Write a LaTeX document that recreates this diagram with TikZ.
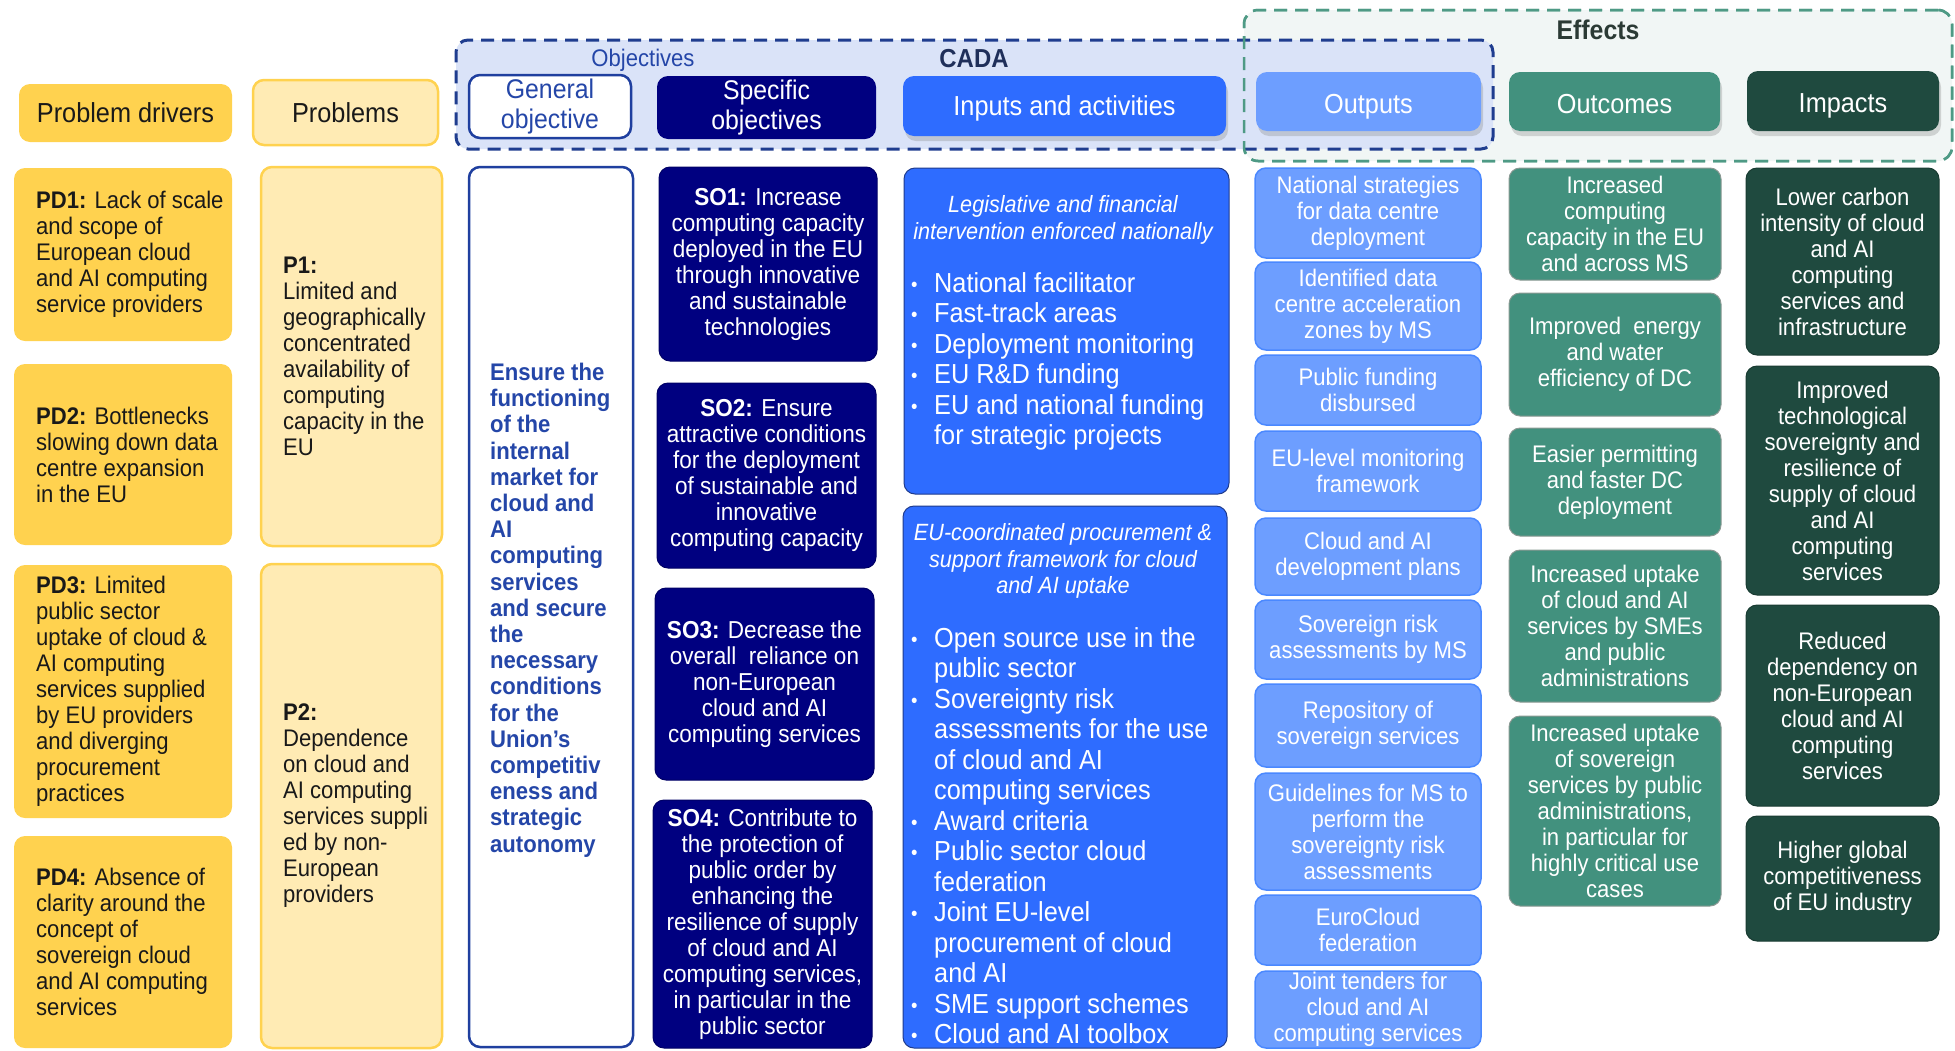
\documentclass[tikz,border=0pt]{standalone}
\usepackage{fontspec}
\setmainfont[FakeStretch=0.92]{Liberation Sans}
\usetikzlibrary{shadows}

\definecolor{pdgold}{HTML}{FFD24F}
\definecolor{plight}{HTML}{FFEBB4}
\definecolor{sonavy}{HTML}{000080}
\definecolor{gob}{HTML}{1F3F9F}
\definecolor{gotext}{HTML}{2446A8}
\definecolor{inblue}{HTML}{2E6CFF}
\definecolor{inborder}{HTML}{1F3B8C}
\definecolor{outblue}{HTML}{6D9EFF}
\definecolor{outborder}{HTML}{4A88FF}
\definecolor{ocTeal}{HTML}{42917E}
\definecolor{tealborder}{HTML}{8A9993}
\definecolor{dkgreen}{HTML}{1F4A3F}
\definecolor{objfill}{HTML}{DAE3F8}
\definecolor{objdash}{HTML}{1F3D8F}
\definecolor{efffill}{HTML}{F1F6F5}
\definecolor{effdash}{HTML}{4E9A85}
\definecolor{cadacol}{HTML}{1F2F5A}
\definecolor{effcol}{HTML}{2B3A35}

\newcommand\fsz[2]{\fontsize{#1}{#2}\selectfont}
\newcommand\bul{\makebox[23pt][l]{\raisebox{1pt}{\fsz{20}{20}\textbullet}}}
\newcommand\cnt{\hspace*{23pt}}
\newcommand\lowr[2][12pt]{\raisebox{-#1}[0pt][0pt]{#2}}

% centred box: style, name, x1, y1, x2, y2, text
\newcommand\ilbox[7]{%
  \pgfmathsetmacro\ilw{#5-#3}\pgfmathsetmacro\ilh{#6-#4}%
  \pgfmathsetmacro\ilcx{(#3+#5)/2}\pgfmathsetmacro\ilcy{(#4+#6)/2}%
  \node[#1, minimum width=\ilw pt, minimum height=\ilh pt] (#2) at (\ilcx,\ilcy) {#7};}
% box with left aligned text: boxstyle, textstyle, name, x1, y1, x2, y2, text x, text
\newcommand\ilboxl[9]{%
  \pgfmathsetmacro\ilw{#6-#4}\pgfmathsetmacro\ilh{#7-#5}%
  \pgfmathsetmacro\ilcx{(#4+#6)/2}\pgfmathsetmacro\ilcy{(#5+#7)/2}%
  \node[#1, minimum width=\ilw pt, minimum height=\ilh pt] (#3) at (\ilcx,\ilcy) {};
  \node[#2, anchor=west] (#3t) at (#8,\ilcy) {#9};}

\tikzset{
  rc/.style={rounded corners=11pt, inner sep=0pt},
  pdbox/.style={rc, fill=pdgold},
  pdtxt/.style={inner sep=0pt, align=left, font=\fsz{24}{26}, text=black!90},
  pbox/.style={rc, fill=plight, draw=pdgold, line width=2.5pt},
  gobox/.style={rc, fill=white, draw=gob, line width=2.5pt},
  gotxt/.style={inner sep=0pt, align=left, font=\bfseries\fsz{24}{26.2}, text=gotext, yshift=-3pt},
  sobox/.style={rc, fill=sonavy, draw=sonavy!80!black, line width=1pt, align=center, text=white, font=\fsz{24.5}{26}},
  inbox/.style={rc, fill=inblue, draw=inborder, line width=1pt},
  outbox/.style={rc, fill=outblue, draw=outborder, line width=1.5pt, align=center, text=white, font=\fsz{24}{26}},
  ocbox/.style={rc, fill=ocTeal, draw=tealborder, line width=1pt, align=center, text=white, font=\fsz{24}{26}},
  imbox/.style={rc, fill=dkgreen, draw=dkgreen!80!black, line width=1pt, align=center, text=white, font=\fsz{24}{26}},
  hdr/.style={rc, align=center, font=\fsz{27.5}{30}},
  shad/.style={drop shadow={opacity=0.3, shadow xshift=2pt, shadow yshift=-5pt}},
  grpobj/.style={rounded corners=12pt, inner sep=0pt, fill=objfill, draw=objdash, line width=3pt, dash pattern=on 13pt off 8pt},
  grpeff/.style={rounded corners=14pt, inner sep=0pt, draw=effdash, line width=2.5pt, dash pattern=on 13pt off 8pt},
  ittxt/.style={inner sep=0pt, align=center, text=white, font=\itshape\fsz{23.5}{26.5}},
  bultxt/.style={inner sep=0pt, align=left, text=white, font=\fsz{27.5}{30.5}, anchor=north west},
}

\begin{document}
\begin{tikzpicture}[x=1pt,y=-1pt]
\useasboundingbox (0,0) rectangle (1955,1050);
\fill[white] (0,0) rectangle (1955,1050);
\clip (0,0) rectangle (1955,1050);

% group frames
\ilbox{grpeff, fill=efffill}{effgrp}{1244}{10}{1952}{161}{}
\ilbox{grpobj}{objgrp}{456}{40}{1493}{149}{}
\ilbox{grpeff}{effgrpb}{1244}{10}{1952}{161}{}
\node[font=\fsz{24}{26}, text=gotext] (lobj) at (643,60) {Objectives};
\node[font=\bfseries\fsz{26}{28}, text=cadacol] (lcada) at (974,59) {CADA};
\node[font=\bfseries\fsz{27}{28}, text=effcol] (leff) at (1598,30) {Effects};

% column headers
\ilbox{hdr, fill=pdgold, text=black!90}{hpd}{19}{84}{232}{142}{Problem drivers}
\ilbox{hdr, fill=plight, draw=pdgold, line width=2.5pt, text=black!90}{hp}{253}{80}{438}{145}{Problems}
\ilbox{hdr, fill=white, draw=gob, line width=2.5pt, text=gotext, font=\fsz{27}{30}}{hgo}{469}{75}{631}{138}{General\\objective}
\ilbox{hdr, fill=sonavy, text=white, font=\fsz{27}{30}}{hso}{657}{76}{876}{139}{Specific\\objectives}
\ilbox{hdr, shad, fill=inblue, text=white}{hin}{903}{76}{1226}{136}{\lowr[9.5pt]{Inputs and activities}}
\ilbox{hdr, shad, fill=outblue, text=white}{hout}{1256}{72}{1481}{131}{\lowr{Outputs}}
\ilbox{hdr, shad, fill=ocTeal, text=white}{hoc}{1509}{72}{1720}{131}{\lowr{Outcomes}}
\ilbox{hdr, shad, fill=dkgreen, text=white}{him}{1747}{71}{1939}{131}{\lowr[11pt]{Impacts}}

% problem drivers
\ilboxl{pdbox}{pdtxt}{pd1}{14}{168}{232}{341}{36}{\textbf{PD1:} Lack of scale\\and scope of\\European cloud\\and AI computing\\service providers}
\ilboxl{pdbox}{pdtxt}{pd2}{14}{364}{232}{545}{36}{\textbf{PD2:} Bottlenecks\\slowing down data\\centre expansion\\in the EU}
\ilboxl{pdbox}{pdtxt}{pd3}{14}{565}{232}{818}{36}{\textbf{PD3:} Limited\\public sector\\uptake of cloud \&\\AI computing\\services supplied\\by EU providers\\and diverging\\procurement\\practices}
\ilboxl{pdbox}{pdtxt}{pd4}{14}{836}{232}{1048}{36}{\textbf{PD4:} Absence of\\clarity around the\\concept of\\sovereign cloud\\and AI computing\\services}

% problems
\ilboxl{pbox}{pdtxt}{p1}{261}{167}{442}{546}{283}{\textbf{P1:}\\Limited and\\geographically\\concentrated\\availability of\\computing\\capacity in the\\EU}
\ilboxl{pbox}{pdtxt}{p2}{261}{564}{442}{1048}{283}{\textbf{P2:}\\Dependence\\on cloud and\\AI computing\\services suppli\\ed by non-\\European\\providers}

% general objective
\ilboxl{gobox}{gotxt}{go}{469}{167}{633}{1047}{490}{Ensure the\\functioning\\of the\\internal\\market for\\cloud and\\AI\\computing\\services\\and secure\\the\\necessary\\conditions\\for the\\Union’s\\competitiv\\eness and\\strategic\\autonomy}

% specific objectives
\ilbox{sobox}{so1}{659}{167}{877}{361}{\textbf{SO1:} Increase\\computing capacity\\deployed in the EU\\through innovative\\and sustainable\\technologies}
\ilbox{sobox}{so2}{657}{383}{876}{568}{\textbf{SO2:} Ensure\\attractive conditions\\for the deployment\\of sustainable and\\innovative\\computing capacity}
\ilbox{sobox}{so3}{655}{588}{874}{780}{\textbf{SO3:} Decrease the\\overall\ \ reliance on\\non-European\\cloud and AI\\computing services}
\ilbox{sobox}{so4}{653}{800}{872}{1048}{\textbf{SO4:} Contribute to\\the protection of\\public order by\\enhancing the\\resilience of supply\\of cloud and AI\\computing services,\\in particular in the\\public sector}

% inputs and activities
\ilbox{inbox}{ina}{904}{168}{1229}{494}{}
\node[ittxt] (inat) at (1063,220) {Legislative and financial\\intervention enforced nationally};
\node[bultxt] (inal) at (911,272) {\bul{}National facilitator\\\bul{}Fast-track areas\\\bul{}Deployment monitoring\\\bul{}EU R\&D funding\\\bul{}EU and national funding\\\cnt{}for strategic projects};

\ilbox{inbox}{inb}{903}{506}{1227}{1048}{}
\node[ittxt] (inbt) at (1063,561) {EU-coordinated procurement \&\\support framework for cloud\\and AI uptake};
\node[bultxt] (inbl) at (911,627) {\bul{}Open source use in the\\\cnt{}public sector\\\bul{}Sovereignty risk\\\cnt{}assessments for the use\\\cnt{}of cloud and AI\\\cnt{}computing services\\\bul{}Award criteria\\\bul{}Public sector cloud\\\cnt{}federation\\\bul{}Joint EU-level\\\cnt{}procurement of cloud\\\cnt{}and AI\\\bul{}SME support schemes\\\bul{}Cloud and AI toolbox};

% outputs
\ilbox{outbox}{o1}{1255}{168}{1481}{258}{National strategies\\for data centre\\deployment}
\ilbox{outbox}{o2}{1255}{262}{1481}{350}{Identified data\\centre acceleration\\zones by MS}
\ilbox{outbox}{o3}{1255}{355}{1481}{425}{Public funding\\disbursed}
\ilbox{outbox}{o4}{1255}{431}{1481}{511}{EU-level monitoring\\framework}
\ilbox{outbox}{o5}{1255}{518}{1481}{595}{Cloud and AI\\development plans}
\ilbox{outbox}{o6}{1255}{600}{1481}{679}{Sovereign risk\\assessments by MS}
\ilbox{outbox}{o7}{1255}{684}{1481}{767}{Repository of\\sovereign services}
\ilbox{outbox}{o8}{1255}{773}{1481}{890}{Guidelines for MS to\\perform the\\sovereignty risk\\assessments}
\ilbox{outbox}{o9}{1255}{895}{1481}{965}{EuroCloud\\federation}
\ilbox{outbox}{o10}{1255}{971}{1481}{1048}{Joint tenders for\\cloud and AI\\computing services}

% outcomes
\ilbox{ocbox}{oc1}{1509}{168}{1721}{280}{Increased\\computing\\capacity in the EU\\and across MS}
\ilbox{ocbox}{oc2}{1509}{293}{1721}{416}{Improved\ \ energy\\and water\\efficiency of DC}
\ilbox{ocbox}{oc3}{1509}{428}{1721}{536}{Easier permitting\\and faster DC\\deployment}
\ilbox{ocbox}{oc4}{1509}{550}{1721}{702}{Increased uptake\\of cloud and AI\\services by SMEs\\and public\\administrations}
\ilbox{ocbox}{oc5}{1509}{716}{1721}{906}{Increased uptake\\of sovereign\\services by public\\administrations,\\in particular for\\highly critical use\\cases}

% impacts
\ilbox{imbox}{im1}{1746}{168}{1939}{355}{Lower carbon\\intensity of cloud\\and AI\\computing\\services and\\infrastructure}
\ilbox{imbox}{im2}{1746}{366}{1939}{595}{Improved\\technological\\sovereignty and\\resilience of\\supply of cloud\\and AI\\computing\\services}
\ilbox{imbox}{im3}{1746}{605}{1939}{806}{Reduced\\dependency on\\non-European\\cloud and AI\\computing\\services}
\ilbox{imbox}{im4}{1746}{816}{1939}{941}{Higher global\\competitiveness\\of EU industry}
\end{tikzpicture}
\end{document}
